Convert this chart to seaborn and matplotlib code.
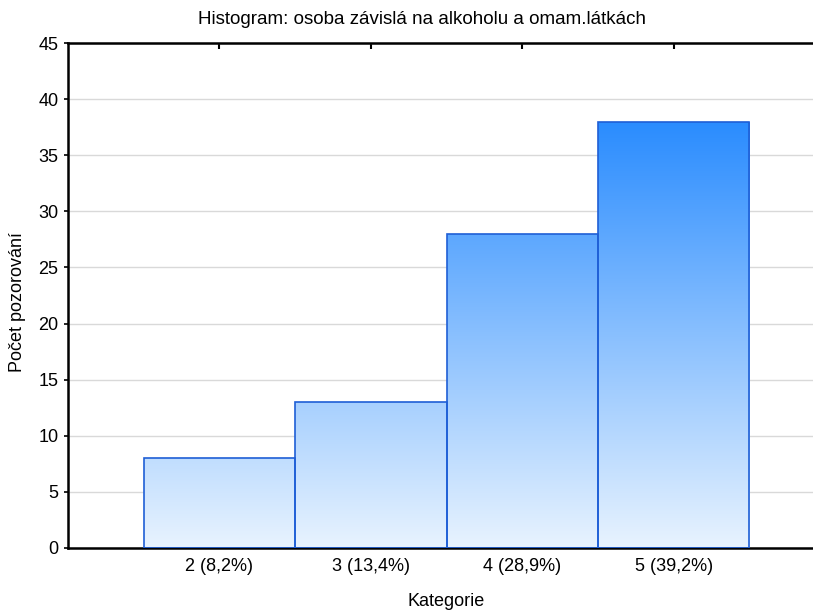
import numpy as np
import pandas as pd
import seaborn as sns
import matplotlib.pyplot as plt
from matplotlib.colors import LinearSegmentedColormap

# data
kategorie = [2, 3, 4, 5]
pocty = [8, 13, 28, 38]
popisky = ["2 (8,2%)", "3 (13,4%)", "4 (28,9%)", "5 (39,2%)"]
titulek = "Histogram: osoba závislá na alkoholu a omam.látkách"

sns.set_style("white")
plt.rcParams['font.family'] = ['Liberation Sans', 'DejaVu Sans']
plt.rcParams.update({"text.color": "black", "axes.labelcolor": "black",
                     "xtick.color": "black", "ytick.color": "black"})

W, H = 813, 611
fig = plt.figure(figsize=(W / 100, H / 100), dpi=100)
# axes runs past the right edge, like the original
ax = fig.add_axes([68 / W, (H - 548) / H, 757 / W, 505 / H])

df = pd.DataFrame({"Kategorie": kategorie, "Pocet": pocty})
sns.histplot(data=df, x="Kategorie", weights="Pocet", discrete=True, ax=ax,
             color="#2a8cff", edgecolor="#1f5fd6", linewidth=1.2, alpha=1, zorder=3)

# vertical gradient fill, clipped to each bar
cmap = LinearSegmentedColormap.from_list("modra", ["#e8f3fe", "#2a8cff"])
grad = np.linspace(0, 1, 256).reshape(-1, 1)
bars = list(ax.patches)
for p in bars:
    p.set_facecolor("none")
    im = ax.imshow(grad, extent=[1, 6, 0, max(pocty)], origin="lower",
                   cmap=cmap, aspect="auto", zorder=2, interpolation="bilinear")
    im.set_clip_path(p)

ax.set_xlim(1, 6)
ax.set_ylim(0, 45)
ax.set_yticks(range(0, 46, 5))
ax.set_xticks(kategorie, popisky)

ax.yaxis.grid(True, color="#d9d9d9", lw=1)
ax.xaxis.grid(False)
ax.set_axisbelow(True)

for s in ax.spines.values():
    s.set_visible(True)
    s.set_color("black")
    s.set_linewidth(1.8)

ax.tick_params(axis="x", direction="in", top=True, bottom=True, length=4,
               width=1.5, color="black", labelcolor="black", labelsize=13, pad=7)
ax.tick_params(axis="y", direction="out", left=True, length=3,
               width=1.2, color="black", labelcolor="black", labelsize=13, pad=4)

ax.set_xlabel("Kategorie", fontsize=13, color="black")
ax.set_ylabel("Počet pozorování", fontsize=13, color="black")
ax.xaxis.set_label_coords(0.5, -(602 - 548) / 505)
ax.xaxis.label.set_va("center")
ax.yaxis.set_label_coords(-(68 - 17) / 757, (548 - 302) / 505)
ax.yaxis.label.set_va("center")

fig.text(422 / W, 1 - 20 / H, titulek, ha="center", va="center",
         fontsize=13.5, color="black")

fig.savefig("out.png", dpi=100)
